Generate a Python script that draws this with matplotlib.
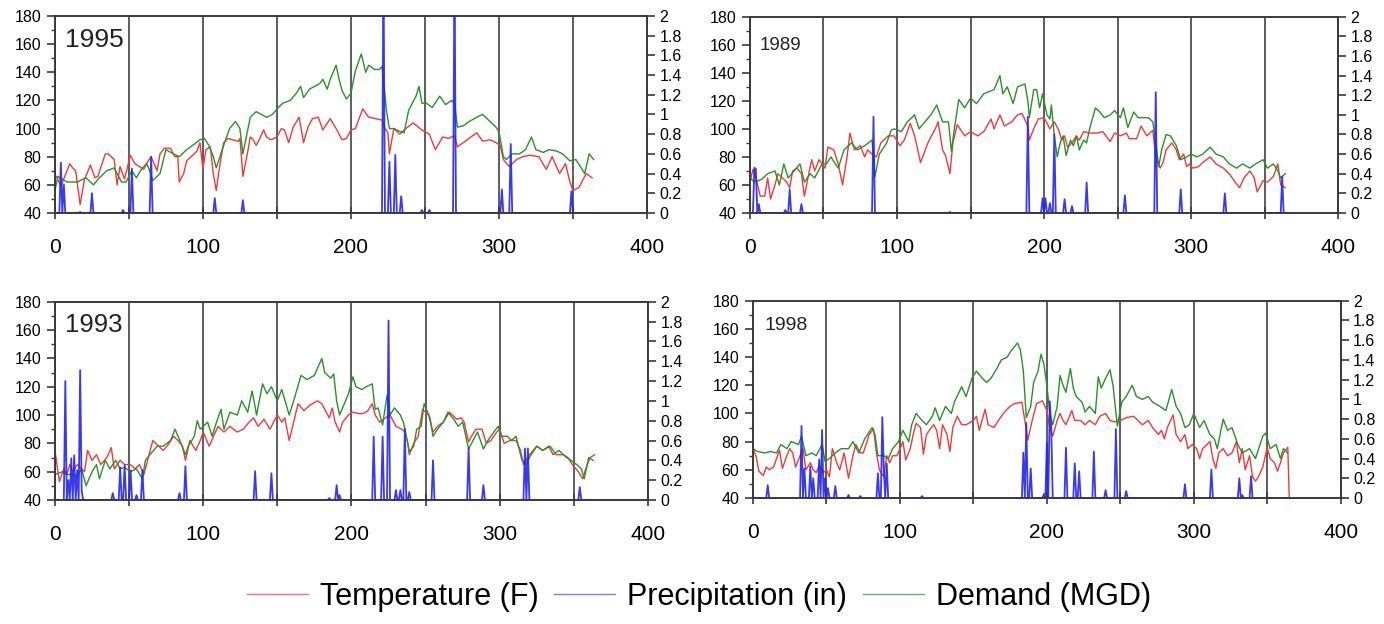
import numpy as np
import matplotlib.pyplot as plt
from matplotlib.lines import Line2D
from matplotlib.ticker import MultipleLocator, FuncFormatter

plt.rcParams['font.family'] = ['Liberation Sans', 'DejaVu Sans']

# (day, value) readings; temperature in F, demand in MGD, precipitation in inches
temp_1995 = [(1, 66), (4, 59), (10, 75), (12, 72), (14, 70), (17, 46), (20, 64), (24, 74), (27, 65), (29, 66),
             (34, 82), (36, 82), (38, 80), (40, 78), (42, 60), (44, 73), (47, 64), (51, 81), (54, 75), (57, 73),
             (60, 71), (63, 77), (65, 80), (69, 70), (71, 82), (74, 86), (78, 86), (81, 80), (83, 80), (84, 62),
             (87, 68), (89, 77), (92, 80), (96, 84), (98, 90), (100, 71), (102, 85), (105, 87), (107, 68), (109, 56),
             (111, 71), (114, 90), (117, 93), (120, 92), (124, 91), (125, 93), (126, 80), (127, 66), (130, 82),
             (132, 94), (134, 92), (136, 88), (138, 92), (141, 99), (143, 94), (146, 92), (150, 94), (153, 100),
             (155, 99), (158, 90), (161, 101), (165, 108), (168, 90), (171, 101), (174, 107), (178, 108), (181, 99),
             (186, 107), (190, 100), (194, 92), (197, 93), (200, 99), (203, 100), (208, 114), (212, 108), (217, 107),
             (221, 106), (223, 100), (225, 97), (226, 82), (229, 100), (233, 96), (236, 99), (242, 104), (248, 99),
             (253, 96), (257, 85), (262, 94), (266, 93), (270, 95), (272, 87), (276, 90), (285, 97), (289, 91),
             (294, 92), (298, 90), (301, 88), (303, 78), (307, 73), (312, 78), (316, 80), (321, 81), (327, 80),
             (332, 71), (336, 80), (341, 68), (345, 75), (348, 62), (350, 56), (354, 58), (359, 68), (363, 65)]
demand_1995 = [(0, 56), (2, 66), (8, 62), (15, 62), (21, 65), (26, 60), (30, 65), (35, 70), (40, 72), (45, 62),
               (48, 62), (52, 70), (55, 65), (59, 72), (62, 75), (64, 70), (66, 63), (71, 68), (75, 85), (80, 82),
               (84, 80), (89, 85), (93, 88), (98, 92), (101, 93), (104, 88), (107, 80), (109, 72), (113, 85),
               (118, 100), (122, 105), (125, 100), (127, 82), (132, 108), (136, 112), (143, 108), (147, 110),
               (151, 115), (154, 118), (159, 120), (163, 125), (166, 130), (168, 122), (172, 128), (179, 132),
               (181, 135), (184, 128), (186, 135), (188, 140), (190, 145), (192, 135), (194, 127), (197, 121),
               (200, 125), (203, 141), (207, 153), (210, 140), (212, 145), (216, 142), (219, 142), (221, 144),
               (224, 113), (226, 100), (229, 100), (233, 98), (236, 97), (239, 113), (244, 123), (246, 130),
               (248, 118), (251, 118), (255, 115), (260, 123), (264, 117), (268, 120), (270, 118), (272, 101),
               (276, 102), (280, 105), (285, 108), (289, 110), (294, 105), (298, 101), (300, 98), (303, 80),
               (305, 78), (309, 82), (314, 82), (318, 85), (322, 94), (325, 85), (330, 83), (334, 85), (339, 84),
               (343, 82), (348, 77), (352, 78), (358, 68), (361, 82), (364, 78)]
rain_1995 = [(4, 0.51), (6, 0.29), (17, 0.01), (25, 0.2), (46, 0.03), (52, 0.45), (65, 0.57), (108, 0.15),
             (127, 0.13), (222, 2.5), (226, 0.52), (230, 0.59), (234, 0.17), (248, 0.03), (253, 0.03), (270, 2.5),
             (302, 0.24), (308, 0.7), (349, 0.22)]

temp_1989 = [(0, 62), (2, 71), (4, 65), (7, 52), (10, 52), (12, 65), (14, 50), (17, 60), (19, 68), (22, 65),
             (25, 62), (27, 58), (29, 70), (32, 72), (35, 68), (37, 52), (40, 68), (42, 78), (44, 70), (47, 78),
             (51, 72), (53, 87), (57, 85), (60, 75), (63, 60), (66, 80), (68, 97), (71, 85), (75, 88), (78, 80),
             (80, 85), (83, 82), (86, 80), (89, 90), (94, 95), (98, 95), (102, 88), (105, 92), (109, 104), (112, 95),
             (116, 76), (121, 90), (126, 100), (128, 105), (131, 85), (133, 81), (136, 68), (138, 90), (141, 103),
             (146, 95), (150, 98), (155, 95), (159, 98), (164, 107), (166, 100), (170, 110), (173, 102), (178, 105),
             (182, 110), (185, 111), (189, 102), (190, 92), (193, 100), (196, 107), (200, 108), (204, 100),
             (207, 105), (210, 99), (212, 92), (214, 95), (216, 87), (219, 90), (222, 95), (224, 92), (227, 98),
             (231, 97), (236, 97), (240, 98), (245, 91), (248, 97), (252, 95), (256, 97), (258, 93), (263, 93),
             (266, 102), (270, 95), (274, 99), (276, 80), (279, 72), (281, 76), (283, 85), (287, 90), (290, 85),
             (292, 78), (295, 82), (297, 73), (299, 75), (301, 72), (305, 73), (308, 76), (313, 80), (317, 75),
             (322, 72), (326, 68), (330, 62), (333, 58), (336, 65), (340, 70), (343, 65), (345, 55), (349, 63),
             (352, 62), (356, 66), (359, 75), (361, 60), (364, 58)]
demand_1989 = [(0, 65), (3, 62), (8, 64), (12, 68), (17, 70), (20, 60), (23, 75), (26, 65), (30, 70), (34, 75),
               (37, 62), (41, 68), (44, 65), (49, 75), (52, 75), (55, 80), (60, 72), (64, 85), (69, 90), (73, 85),
               (78, 88), (83, 92), (85, 66), (88, 82), (93, 90), (96, 99), (98, 100), (103, 98), (107, 105),
               (112, 110), (115, 100), (119, 105), (123, 110), (127, 117), (131, 105), (135, 105), (137, 84),
               (139, 100), (142, 121), (146, 115), (150, 122), (154, 118), (159, 125), (166, 128), (170, 138),
               (172, 125), (175, 130), (179, 118), (182, 130), (187, 132), (189, 120), (190, 108), (193, 128),
               (195, 128), (197, 115), (199, 125), (202, 110), (204, 107), (205, 117), (207, 95), (209, 80),
               (211, 90), (213, 95), (215, 81), (218, 92), (220, 88), (222, 95), (224, 85), (227, 92), (229, 90),
               (231, 100), (235, 115), (238, 112), (241, 108), (245, 110), (248, 113), (252, 108), (254, 115),
               (257, 101), (261, 112), (264, 108), (267, 108), (271, 108), (274, 105), (276, 90), (278, 73),
               (280, 85), (283, 96), (286, 95), (290, 88), (293, 78), (297, 80), (300, 82), (304, 80), (308, 82),
               (313, 87), (317, 82), (322, 80), (326, 75), (331, 72), (335, 75), (340, 72), (344, 75), (349, 78),
               (352, 72), (356, 75), (359, 70), (361, 65), (364, 68)]
rain_1989 = [(3, 0.46), (4, 0.45), (6, 0.09), (24, 0.03), (27, 0.24), (35, 0.09), (84, 0.98), (136, 0.01),
             (189, 0.98), (199, 0.15), (201, 0.15), (204, 0.1), (207, 0.8), (214, 0.14), (219, 0.07), (229, 0.31),
             (255, 0.18), (276, 1.23), (293, 0.24), (323, 0.2), (362, 0.37)]

temp_1993 = [(0, 75), (2, 60), (3, 53), (6, 62), (8, 58), (10, 65), (12, 60), (15, 65), (18, 62), (20, 60),
             (22, 75), (25, 68), (28, 72), (31, 65), (35, 70), (38, 77), (40, 62), (44, 68), (47, 65), (51, 65),
             (54, 62), (57, 65), (60, 58), (63, 70), (66, 82), (70, 78), (73, 75), (77, 80), (80, 85), (83, 82),
             (86, 78), (88, 68), (91, 82), (95, 75), (98, 82), (100, 88), (104, 78), (107, 85), (110, 92), (114, 88),
             (118, 92), (123, 88), (127, 90), (131, 95), (134, 98), (137, 92), (141, 97), (145, 90), (150, 100),
             (153, 95), (155, 98), (158, 82), (161, 95), (164, 108), (168, 103), (172, 107), (177, 110), (180, 108),
             (185, 98), (187, 105), (189, 95), (192, 88), (194, 95), (198, 100), (201, 102), (205, 101), (208, 101),
             (211, 103), (214, 108), (216, 100), (219, 95), (223, 98), (226, 100), (230, 92), (234, 90), (236, 88),
             (238, 80), (239, 72), (242, 80), (245, 85), (248, 104), (252, 100), (255, 88), (258, 92), (262, 95),
             (266, 102), (271, 97), (274, 98), (276, 95), (279, 81), (281, 85), (284, 90), (288, 90), (291, 80),
             (294, 82), (298, 88), (300, 90), (303, 80), (307, 82), (311, 82), (314, 75), (316, 65), (320, 72),
             (325, 78), (329, 75), (334, 78), (338, 72), (343, 72), (346, 70), (349, 65), (353, 60), (356, 55),
             (358, 62), (361, 70), (364, 72)]
demand_1993 = [(0, 58), (5, 60), (8, 58), (11, 58), (15, 57), (18, 62), (21, 50), (25, 60), (28, 65), (30, 55),
               (34, 68), (37, 62), (41, 68), (44, 62), (47, 63), (51, 60), (55, 62), (59, 55), (61, 68), (64, 72),
               (69, 78), (73, 78), (78, 82), (81, 90), (85, 80), (88, 72), (90, 78), (94, 85), (96, 96), (98, 90),
               (103, 95), (106, 85), (109, 95), (112, 104), (114, 90), (118, 102), (123, 100), (126, 110),
               (130, 102), (133, 117), (136, 100), (140, 122), (143, 115), (146, 120), (150, 110), (153, 118),
               (158, 100), (161, 110), (166, 128), (170, 125), (175, 128), (180, 140), (182, 130), (186, 126),
               (188, 129), (190, 110), (192, 100), (194, 105), (198, 115), (201, 127), (203, 120), (207, 118),
               (210, 120), (214, 122), (216, 104), (218, 105), (221, 93), (224, 114), (226, 100), (229, 105),
               (233, 100), (235, 95), (238, 80), (239, 74), (242, 78), (244, 90), (247, 92), (249, 108), (253, 98),
               (255, 85), (258, 90), (262, 95), (265, 102), (269, 97), (272, 92), (275, 95), (279, 76), (282, 82),
               (285, 88), (289, 76), (292, 82), (296, 88), (299, 92), (301, 85), (305, 85), (308, 82), (311, 85),
               (315, 68), (318, 65), (320, 70), (325, 78), (329, 75), (333, 78), (336, 72), (340, 75), (345, 70),
               (348, 68), (352, 65), (355, 62), (357, 55), (360, 70), (363, 68)]
rain_1993 = [(7, 1.2), (9, 0.2), (11, 0.42), (13, 0.45), (15, 0.3), (17, 1.31), (18, 0.1), (39, 0.07), (44, 0.33),
             (47, 0.35), (51, 0.3), (55, 0.05), (59, 0.3), (84, 0.07), (88, 0.34), (135, 0.29), (146, 0.27),
             (185, 0.02), (190, 0.15), (192, 0.05), (215, 0.64), (221, 0.64), (225, 1.81), (230, 0.1), (233, 0.1),
             (236, 0.72), (239, 0.08), (255, 0.4), (279, 0.52), (289, 0.15), (317, 0.52), (319, 0.52), (354, 0.13)]

temp_1998 = [(0, 75), (2, 70), (4, 59), (7, 56), (9, 62), (11, 60), (14, 62), (16, 68), (18, 74), (20, 61),
             (23, 70), (25, 75), (27, 72), (29, 62), (32, 70), (34, 75), (36, 60), (39, 65), (41, 60), (43, 58),
             (45, 63), (48, 58), (50, 60), (52, 55), (54, 75), (57, 65), (59, 60), (62, 72), (65, 54), (68, 70),
             (70, 78), (73, 72), (75, 72), (77, 78), (79, 85), (82, 89), (84, 72), (86, 60), (89, 55), (91, 70),
             (93, 65), (95, 70), (98, 70), (100, 75), (102, 80), (104, 67), (107, 75), (109, 85), (111, 93),
             (114, 90), (116, 71), (118, 85), (120, 88), (123, 92), (125, 88), (127, 75), (129, 92), (132, 85),
             (134, 73), (136, 90), (139, 98), (142, 92), (145, 92), (150, 95), (152, 98), (154, 88), (158, 103),
             (160, 92), (164, 90), (167, 95), (169, 98), (172, 102), (175, 105), (178, 107), (183, 108), (185, 95),
             (187, 81), (190, 95), (193, 107), (197, 109), (200, 102), (202, 90), (204, 84), (207, 95), (209, 100),
             (211, 95), (213, 92), (217, 102), (219, 95), (223, 95), (226, 92), (229, 95), (233, 92), (236, 98),
             (240, 100), (243, 95), (246, 94), (250, 95), (254, 97), (259, 98), (262, 95), (265, 92), (269, 95),
             (272, 90), (276, 85), (278, 88), (280, 82), (282, 90), (286, 99), (288, 85), (291, 80), (294, 85),
             (296, 75), (299, 78), (302, 75), (304, 68), (306, 75), (311, 80), (313, 68), (315, 61), (317, 72),
             (320, 75), (323, 70), (326, 72), (329, 80), (331, 65), (333, 75), (335, 60), (338, 70), (340, 55),
             (342, 52), (344, 55), (347, 62), (350, 76), (352, 68), (355, 65), (357, 59), (359, 65), (361, 72),
             (364, 76), (365, 40)]
demand_1998 = [(0, 75), (3, 73), (8, 72), (12, 73), (16, 72), (19, 78), (23, 75), (26, 80), (31, 78), (33, 84),
               (36, 70), (40, 72), (43, 70), (47, 78), (49, 66), (52, 68), (56, 72), (60, 75), (65, 75), (68, 80),
               (72, 72), (76, 82), (81, 90), (83, 85), (85, 70), (89, 70), (92, 68), (95, 75), (99, 80), (102, 88),
               (106, 80), (108, 92), (111, 100), (115, 95), (118, 92), (122, 98), (124, 104), (127, 95), (131, 105),
               (135, 100), (137, 108), (142, 119), (145, 112), (149, 125), (152, 130), (156, 125), (159, 122),
               (162, 125), (166, 132), (169, 138), (173, 140), (176, 145), (180, 150), (182, 145), (184, 130),
               (186, 97), (189, 105), (191, 122), (194, 130), (196, 142), (198, 135), (200, 120), (202, 100),
               (204, 92), (207, 105), (209, 127), (211, 120), (213, 115), (216, 132), (218, 118), (220, 112),
               (224, 108), (226, 101), (229, 105), (233, 100), (235, 126), (237, 118), (240, 125), (243, 131),
               (245, 120), (248, 91), (251, 108), (254, 112), (258, 120), (261, 112), (265, 110), (269, 112),
               (272, 108), (277, 105), (281, 102), (285, 117), (288, 105), (291, 100), (294, 90), (297, 92),
               (300, 100), (304, 90), (307, 95), (311, 85), (314, 82), (316, 75), (320, 96), (323, 88), (326, 90),
               (330, 78), (333, 72), (338, 75), (342, 68), (347, 84), (349, 86), (352, 75), (356, 78), (359, 68),
               (361, 75), (364, 72)]
rain_1998 = [(10, 0.13), (33, 0.73), (35, 0.3), (39, 0.32), (41, 0.2), (45, 0.39), (47, 0.69), (49, 0.2),
             (51, 0.1), (56, 0.12), (65, 0.03), (73, 0.02), (85, 0.25), (88, 0.82), (89, 0.3), (91, 0.35),
             (115, 0.02), (184, 0.46), (186, 0.76), (189, 0.3), (198, 0.04), (200, 0.56), (202, 0.98), (203, 0.71),
             (213, 0.51), (219, 0.35), (222, 0.27), (232, 0.47), (240, 0.08), (247, 0.7), (254, 0.07), (294, 0.14),
             (312, 0.29), (331, 0.2), (333, 0.03), (339, 0.22)]

RED = '#f03a3a'
GREEN = '#2b8f2b'
BLUE = '#2424e8'
AXC = '#3a3a3a'

fig = plt.figure(figsize=(13.84, 6.24), dpi=100)


def draw_panel(rect, year, temp, demand, rain, yr_size, yr_x, yr_y):
    ax = fig.add_axes(rect)
    d, v = zip(*temp)
    ax.plot(d, v, color=RED, lw=1.0)
    d, v = zip(*demand)
    ax.plot(d, v, color=GREEN, lw=1.0)
    ax.set_xlim(0, 400)
    ax.set_ylim(40, 180)
    ax.xaxis.set_major_locator(MultipleLocator(100))
    ax.xaxis.set_minor_locator(MultipleLocator(50))
    ax.yaxis.set_major_locator(MultipleLocator(20))
    ax.yaxis.set_minor_locator(MultipleLocator(10))
    ax.grid(axis='x', which='both', color='#505050', lw=1.3)
    ax.tick_params(axis='x', which='both', direction='inout', length=8, width=1.2,
                   color=AXC, labelsize=15, pad=14)
    ax.tick_params(axis='y', which='major', direction='out', length=6, width=1.2,
                   color=AXC, labelsize=11.5, pad=4)
    ax.tick_params(axis='y', which='minor', direction='out', length=3, width=1.0, color=AXC)
    for s in ax.spines.values():
        s.set_color(AXC)
        s.set_linewidth(1.2)
    ax.text(yr_x, yr_y, year, transform=ax.transAxes, fontsize=yr_size,
            ha='left', va='baseline', color='#222222')

    ax2 = ax.twinx()
    daily = np.zeros(366)
    d, v = zip(*rain)
    daily[list(d)] = v
    ax2.plot(np.arange(366), daily, color=BLUE, lw=1.3, alpha=0.9)
    ax2.set_ylim(0, 2)
    ax2.yaxis.set_major_locator(MultipleLocator(0.2))
    ax2.yaxis.set_major_formatter(FuncFormatter(lambda x, p: '%g' % round(x, 1)))
    ax2.tick_params(axis='y', direction='out', length=6, width=1.2, color=AXC,
                    labelsize=11.5, pad=3)
    for s in ax2.spines.values():
        s.set_color(AXC)
        s.set_linewidth(1.2)
    return ax


draw_panel([0.0397, 0.6587, 0.4277, 0.3157], '1995', temp_1995, demand_1995, rain_1995, 19, 0.017, 0.843)
draw_panel([0.5419, 0.6587, 0.4249, 0.3145], '1989', temp_1989, demand_1989, rain_1989, 13.5, 0.017, 0.832)
draw_panel([0.0397, 0.1987, 0.4285, 0.3178], '1993', temp_1993, demand_1993, rain_1993, 18.5, 0.017, 0.848)
draw_panel([0.5441, 0.2019, 0.4246, 0.3162], '1998', temp_1998, demand_1998, rain_1998, 14, 0.020, 0.853)

handles = [Line2D([], [], color=RED, lw=1.0, alpha=0.7),
           Line2D([], [], color=BLUE, lw=1.0, alpha=0.6),
           Line2D([], [], color=GREEN, lw=1.0, alpha=0.7)]
labels = ['Temperature (F)', 'Precipitation (in)', 'Demand (MGD)']
fig.legend(handles, labels, loc='lower center', bbox_to_anchor=(0.505, -0.01), ncol=3,
           frameon=False, fontsize=22, handlelength=2.0, handletextpad=0.4,
           columnspacing=0.5, borderaxespad=0.2)

fig.savefig('out.png', dpi=100)
